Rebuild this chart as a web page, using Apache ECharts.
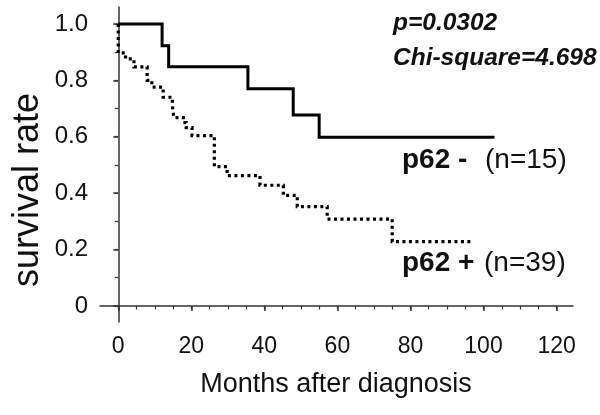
<!DOCTYPE html>
<html><head><meta charset="utf-8">
<script src="https://cdn.jsdelivr.net/npm/echarts@6/dist/echarts.min.js"></script>
<style>html,body{margin:0;padding:0;background:#fff}#c{width:600px;height:415px}</style>
</head><body><div id="c"></div>
<script>
// Kaplan-Meier step points [months, survival]
const negTimes = [0, 12, 13.8, 35.5, 47.9, 55, 103];
const negSurv  = [1.0, 0.923, 0.848, 0.770, 0.677, 0.598, 0.598];
const posTimes = [0, 0, 2, 4.3, 7.9, 9.2, 12.3, 14.8, 15.2, 17.8, 18.6, 20.2, 26.3, 29.8, 38.8, 45.2, 49, 57.2, 75, 97];
const posSurv  = [1.0, 0.897, 0.876, 0.848, 0.80, 0.776, 0.74, 0.712, 0.668, 0.65, 0.632, 0.604, 0.494, 0.462, 0.428, 0.392, 0.352, 0.308, 0.228, 0.228];
const xTicks = [0, 20, 40, 60, 80, 100, 120];
const xMinorTicks = [0,5,10,15,20,25,30,35,40,45,50,55,60,65,70,75,80,85,90,95,100,105,110,115,120];
const yTicks = [0, 0.2, 0.4, 0.6, 0.8, 1.0];
const yMinorTicks = [0, 0.1, 0.2, 0.3, 0.4, 0.5, 0.6, 0.7, 0.8, 0.9, 1.0];
const statLines = ['p=0.0302', 'Chi-square=4.698'];
const groupNames = ['p62 -', 'p62 +'];
const groupNs = ['(n=15)', '(n=39)'];
const xTitle = 'Months after diagnosis';
const yTitle = 'survival rate';

const FONT = '"Liberation Sans", Arial, sans-serif';
const AX = '#333';
const pair = (t, s) => t.map((v, i) => [v, s[i]]);

const chart = echarts.init(document.getElementById('c'), null, {renderer: 'canvas'});
const xMin = -5, xMax = 124.5, yMin = -0.057, yMax = 1.06;
chart.setOption({
  animation: false,
  backgroundColor: '#fff',
  grid: {left: 100, right: 27, top: 7, bottom: 93, containLabel: false},
  xAxis: [{
    type: 'value', min: xMin, max: xMax, position: 'bottom',
    axisLine: {show: true, lineStyle: {color: AX, width: 1.5}},
    axisTick: {show: true, customValues: xTicks, length: 5, lineStyle: {color: AX, width: 1.5}},
    axisLabel: {customValues: xTicks, color: '#111', fontSize: 23, fontFamily: FONT, margin: 13},
    splitLine: {show: false}
  }, {
    type: 'value', min: xMin, max: xMax, position: 'bottom',
    axisLine: {show: false},
    axisTick: {show: true, customValues: xMinorTicks, length: 3.5, lineStyle: {color: AX, width: 1.2}},
    axisLabel: {show: false},
    splitLine: {show: false}
  }],
  yAxis: [{
    type: 'value', min: yMin, max: yMax, position: 'left',
    axisLine: {show: true, lineStyle: {color: AX, width: 1.5}},
    axisTick: {show: true, customValues: yTicks, length: 5, lineStyle: {color: AX, width: 1.5}},
    axisLabel: {customValues: yTicks, color: '#111', fontSize: 24, fontFamily: FONT, margin: 12,
      formatter: v => (Math.abs(v) < 1e-9 ? '0' : v.toFixed(1))},
    splitLine: {show: false}
  }, {
    type: 'value', min: yMin, max: yMax, position: 'left',
    axisLine: {show: false},
    axisTick: {show: true, customValues: yMinorTicks, length: 3.5, lineStyle: {color: AX, width: 1.2}},
    axisLabel: {show: false},
    splitLine: {show: false}
  }],
  series: [{
    type: 'line', step: 'end', data: pair(negTimes, negSurv), symbol: 'none',
    lineStyle: {color: '#000', width: 3, cap: 'butt', join: 'miter'}
  }, {
    type: 'line', step: 'end', data: pair(posTimes, posSurv), symbol: 'none',
    lineStyle: {color: '#000', width: 3.2, type: [3, 3.5], cap: 'butt', join: 'miter'}
  }],
  graphic: [
    {type: 'text', x: 393, y: 23, style: {text: statLines[0], font: 'italic bold 24.5px ' + FONT, fill: '#111', textVerticalAlign: 'middle'}},
    {type: 'text', x: 393, y: 58, style: {text: statLines[1], font: 'italic bold 24.5px ' + FONT, fill: '#111', textVerticalAlign: 'middle'}},
    {type: 'text', x: 402, y: 160, style: {text: groupNames[0], font: 'bold 28px ' + FONT, fill: '#111', textVerticalAlign: 'middle'}},
    {type: 'text', x: 485, y: 160, style: {text: groupNs[0], font: '28px ' + FONT, fill: '#111', textVerticalAlign: 'middle'}},
    {type: 'text', x: 402, y: 263, style: {text: groupNames[1], font: 'bold 28px ' + FONT, fill: '#111', textVerticalAlign: 'middle'}},
    {type: 'text', x: 484, y: 263, style: {text: groupNs[1], font: '28px ' + FONT, fill: '#111', textVerticalAlign: 'middle'}},
    {type: 'text', x: 336, y: 385, style: {text: xTitle, font: '27px ' + FONT, fill: '#111', textAlign: 'center', textVerticalAlign: 'middle'}},
    {type: 'text', x: 28, y: 190, rotation: Math.PI / 2, style: {text: yTitle, font: '36px ' + FONT, fill: '#111', textAlign: 'center', textVerticalAlign: 'middle'}}
  ]
});
</script></body></html>
